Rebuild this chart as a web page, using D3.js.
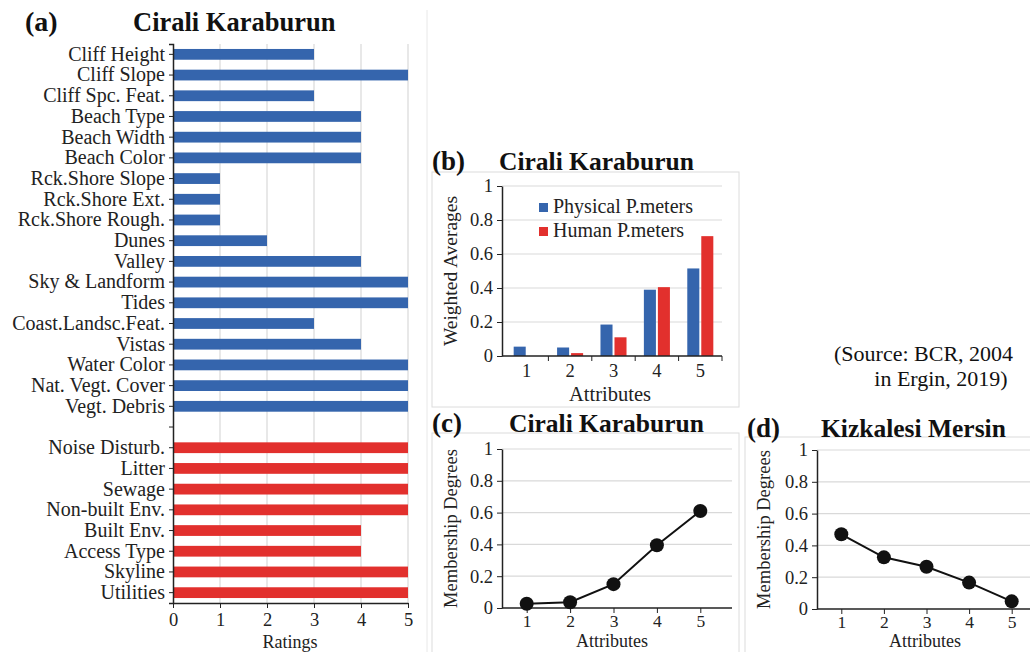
<!DOCTYPE html>
<html>
<head>
<meta charset="utf-8">
<script src="https://cdn.jsdelivr.net/npm/d3@7"></script>
<style>
  body { margin: 0; background: #fff; }
  svg { display: block; font-family: "Liberation Serif", "Times New Roman", serif; }
  .axis path, .axis line { stroke: #222; }
  .axis text { fill: #222; }
</style>
</head>
<body>
<svg id="chart" width="1030" height="652"></svg>
<script>
// ---- (a) ratings of the coastal scenery parameters ----
const physicalLabels = ["Cliff Height", "Cliff Slope", "Cliff Spc. Feat.", "Beach Type", "Beach Width",
  "Beach Color", "Rck.Shore Slope", "Rck.Shore Ext.", "Rck.Shore Rough.", "Dunes", "Valley",
  "Sky & Landform", "Tides", "Coast.Landsc.Feat.", "Vistas", "Water Color ", "Nat. Vegt. Cover", "Vegt. Debris"];
const physicalRatings = [3, 5, 3, 4, 4, 4, 1, 1, 1, 2, 4, 5, 5, 3, 4, 5, 5, 5];
const humanLabels = ["Noise Disturb.", "Litter", "Sewage", "Non-built Env.", "Built Env.",
  "Access Type", "Skyline", "Utilities"];
const humanRatings = [5, 5, 5, 5, 4, 4, 5, 5];
const ratingTicks = [0, 1, 2, 3, 4, 5];

// ---- (b)-(d) attribute classes ----
const attributes = [1, 2, 3, 4, 5];
const physicalWeighted = [0.055, 0.05, 0.185, 0.39, 0.515];
const humanWeighted = [0, 0.017, 0.11, 0.405, 0.705];
const membershipCirali = [0.027, 0.036, 0.15, 0.395, 0.61];
const membershipKizkalesi = [0.47, 0.325, 0.266, 0.166, 0.048];
const unitTicks = [0, 0.2, 0.4, 0.6, 0.8, 1];

const BLUE = "#3565ad";
const RED = "#e2302d";
const GRID = "#d9d9d9";
const FRAME = "#dcdcdc";
const SERIF = "Liberation Serif, Times New Roman, serif";

const svg = d3.select("#chart");

function title(tag, name, x0, x1, y, tagSize, size) {
  svg.append("text").attr("x", x0).attr("y", y).attr("font-size", tagSize).attr("font-weight", "bold")
    .attr("fill", "#111").text(tag);
  svg.append("text").attr("x", x1).attr("y", y).attr("font-size", size).attr("font-weight", "bold")
    .attr("fill", "#111").text(name);
}

function frame(x, y, w, h) {
  svg.append("rect").attr("x", x).attr("y", y).attr("width", w).attr("height", h)
    .attr("fill", "none").attr("stroke", FRAME).attr("stroke-width", 1);
}

// ===================== (a) =====================
{
  const rows = [];
  physicalLabels.forEach((l, i) => rows.push({ key: "p" + i, label: l, value: physicalRatings[i], color: BLUE }));
  rows.push({ key: "gap", label: "", value: null });
  humanLabels.forEach((l, i) => rows.push({ key: "h" + i, label: l, value: humanRatings[i], color: RED }));

  const x = d3.scaleLinear().domain([0, 5]).range([173, 408]);
  const y = d3.scaleBand().domain(rows.map(r => r.key)).range([44, 603])
    .paddingInner(0.48).paddingOuter(0.24);
  const labelOf = new Map(rows.map(r => [r.key, r.label]));

  svg.append("line").attr("x1", 427).attr("x2", 427).attr("y1", 10).attr("y2", 652)
    .attr("stroke", "#e8e8e8");

  svg.append("g").selectAll("line").data(ratingTicks.slice(1)).join("line")
    .attr("x1", d => x(d)).attr("x2", d => x(d)).attr("y1", 44).attr("y2", 603)
    .attr("stroke", GRID).attr("stroke-width", 1.2);

  svg.append("g").selectAll("rect").data(rows.filter(r => r.value !== null)).join("rect")
    .attr("x", x(0)).attr("y", d => y(d.key)).attr("width", d => x(d.value) - x(0))
    .attr("height", y.bandwidth()).attr("fill", d => d.color);

  const ya = svg.append("g").attr("class", "axis").attr("transform", `translate(${x(0)},0)`)
    .call(d3.axisLeft(y).tickSize(4).tickSizeOuter(4).tickPadding(4).tickFormat(k => labelOf.get(k)));
  ya.selectAll("text").attr("font-size", 20).attr("font-family", SERIF);
  ya.select(".domain").attr("stroke-width", 1.5);

  const xa = svg.append("g").attr("class", "axis").attr("transform", "translate(0,603)")
    .call(d3.axisBottom(x).tickValues(ratingTicks).tickSize(5).tickSizeOuter(0).tickPadding(5)
      .tickFormat(d3.format("d")));
  xa.selectAll("text").attr("font-size", 18.5).attr("font-family", SERIF);
  xa.select(".domain").attr("stroke-width", 1.5);

  svg.append("text").attr("x", 290).attr("y", 648).attr("text-anchor", "middle")
    .attr("font-size", 18).attr("fill", "#222").text("Ratings");

  title("(a)", "Cirali Karaburun", 25, 133, 31, 28, 26.5);
}

// Shared y-axis for the unit-range panels
function unitAxis(y, x0, x1, labelX, label, labelSize) {
  svg.append("g").selectAll("line").data(unitTicks.slice(1)).join("line")
    .attr("x1", x0).attr("x2", x1).attr("y1", d => y(d)).attr("y2", d => y(d))
    .attr("stroke", GRID).attr("stroke-width", 1.2);
  const ya = svg.append("g").attr("class", "axis").attr("transform", `translate(${x0},0)`)
    .call(d3.axisLeft(y).tickValues(unitTicks).tickSize(5).tickSizeOuter(0).tickPadding(4)
      .tickFormat(d => d === 0 ? "0" : d === 1 ? "1" : d3.format(".1f")(d)));
  ya.selectAll("text").attr("font-size", 18.5).attr("font-family", SERIF);
  ya.select(".domain").attr("stroke-width", 1.5);
  const [ya0, ya1] = y.range();
  svg.append("text").attr("transform", `translate(${labelX},${(ya0 + ya1) / 2}) rotate(-90)`)
    .attr("text-anchor", "middle").attr("font-size", labelSize).attr("fill", "#222").text(label);
}

// ===================== (b) =====================
{
  frame(432, 172, 307, 235);
  const x = d3.scaleBand().domain(attributes).range([505, 722]);
  const inner = d3.scaleBand().domain(["p", "h"]).range([0, x.bandwidth()])
    .paddingInner(0.14).paddingOuter(0.62);
  const y = d3.scaleLinear().domain([0, 1]).range([356, 186]);

  unitAxis(y, 502, 722, 457, "Weighted Averages", 19.5);

  const groups = attributes.map((a, i) => ({ a, p: physicalWeighted[i], h: humanWeighted[i] }));
  const g = svg.append("g");
  g.selectAll("rect.p").data(groups).join("rect").attr("class", "p")
    .attr("x", d => x(d.a) + inner("p")).attr("width", inner.bandwidth())
    .attr("y", d => y(d.p)).attr("height", d => y(0) - y(d.p)).attr("fill", BLUE);
  g.selectAll("rect.h").data(groups).join("rect").attr("class", "h")
    .attr("x", d => x(d.a) + inner("h")).attr("width", inner.bandwidth())
    .attr("y", d => y(d.h)).attr("height", d => y(0) - y(d.h)).attr("fill", RED);

  const boundaries = attributes.map(a => x(a) + x.bandwidth());
  const xa = svg.append("g").attr("class", "axis").attr("transform", "translate(0,356)");
  xa.append("line").attr("x1", 502).attr("x2", 722).attr("stroke", "#222").attr("stroke-width", 1.5);
  xa.selectAll("line.t").data(boundaries).join("line").attr("class", "t")
    .attr("x1", d => d).attr("x2", d => d).attr("y1", 0).attr("y2", 5)
    .attr("stroke", "#222");
  xa.selectAll("text").data(attributes).join("text")
    .attr("x", d => x(d) + x.bandwidth() / 2).attr("y", 21).attr("text-anchor", "middle")
    .attr("font-size", 18.5).attr("fill", "#222").text(d => d);

  svg.append("text").attr("x", 610).attr("y", 401).attr("text-anchor", "middle")
    .attr("font-size", 20.5).attr("fill", "#222").text("Attributes");

  const legend = [{ name: "Physical P.meters", color: BLUE }, { name: "Human P.meters", color: RED }];
  const lg = svg.append("g").selectAll("g").data(legend).join("g")
    .attr("transform", (d, i) => `translate(539,${203 + i * 24})`);
  lg.append("rect").attr("width", 9).attr("height", 9).attr("fill", d => d.color);
  lg.append("text").attr("x", 14).attr("y", 10).attr("font-size", 20).attr("fill", "#222")
    .text(d => d.name);

  title("(b)", "Cirali Karaburun", 432, 499, 170, 27, 25.5);
}

// ===================== (c) and (d) =====================
function membershipPanel(values, xr, yr, labelX) {
  const x = d3.scalePoint().domain(attributes).range(xr).padding(0.5);
  const y = d3.scaleLinear().domain([0, 1]).range(yr);
  unitAxis(y, xr[0] - 3, xr[1] + 10, labelX, "Membership Degrees", 18.5);

  const xa = svg.append("g").attr("class", "axis").attr("transform", `translate(0,${yr[0]})`)
    .call(d3.axisBottom(x).tickSize(5).tickSizeOuter(0).tickPadding(2));
  xa.select(".domain").attr("d", `M${xr[0] - 3},0H${xr[1] + 10}`).attr("stroke-width", 1.5);
  xa.selectAll("text").attr("font-size", 17.5).attr("font-family", SERIF);

  const pts = attributes.map((a, i) => [x(a), y(values[i])]);
  svg.append("path").attr("d", d3.line()(pts)).attr("fill", "none")
    .attr("stroke", "#111").attr("stroke-width", 2);
  svg.append("g").selectAll("circle").data(pts).join("circle")
    .attr("cx", d => d[0]).attr("cy", d => d[1]).attr("r", 7).attr("fill", "#111");
  return x;
}

{
  frame(432, 433, 307, 240);
  membershipPanel(membershipCirali, [505, 722], [608, 449], 457);
  svg.append("text").attr("x", 612).attr("y", 647).attr("text-anchor", "middle")
    .attr("font-size", 18).attr("fill", "#222").text("Attributes");
  title("(c)", "Cirali Karaburun", 432, 509, 432, 27, 25.5);
}

{
  frame(745, 437, 300, 240);
  membershipPanel(membershipKizkalesi, [820, 1033], [609, 450], 770);
  svg.append("text").attr("x", 925).attr("y", 647).attr("text-anchor", "middle")
    .attr("font-size", 18).attr("fill", "#222").text("Attributes");
  title("(d)", "Kizkalesi Mersin", 747, 821, 437, 27, 25.5);
}

// ---- source note ----
svg.append("text").attr("x", 834).attr("y", 361).attr("font-size", 22).attr("fill", "#111")
  .text("(Source: BCR, 2004");
svg.append("text").attr("x", 941).attr("y", 386).attr("text-anchor", "middle")
  .attr("font-size", 22).attr("fill", "#111").text("in Ergin, 2019)");
</script>
</body>
</html>
